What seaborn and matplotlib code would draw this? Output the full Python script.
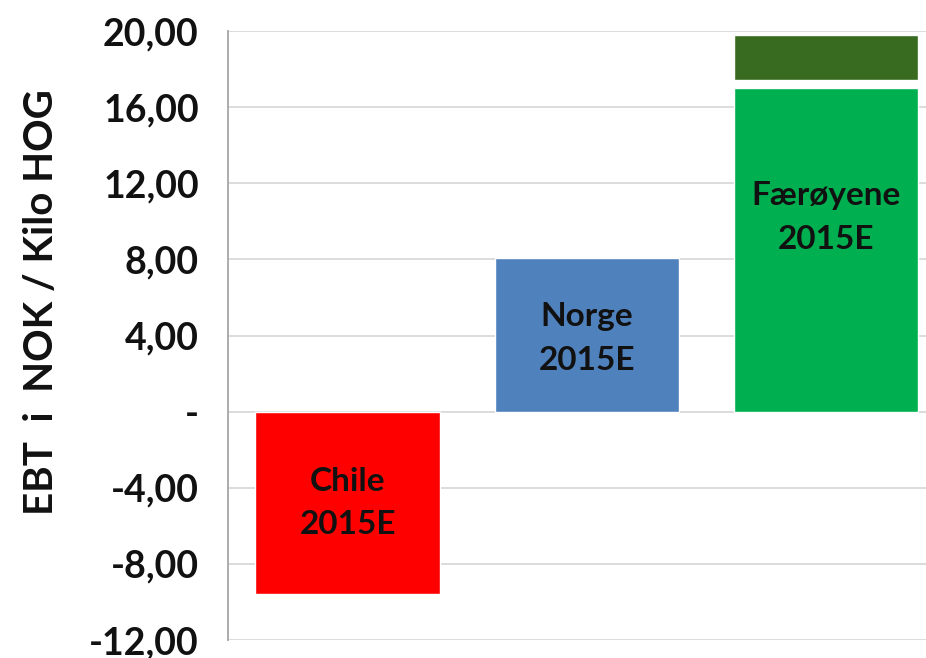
import matplotlib
matplotlib.use("Agg")
import matplotlib.pyplot as plt
import seaborn as sns
import pandas as pd

# EBT per kilo HOG, 2015 estimates
regions = ["Chile", "Norge", "Færøyene"]
ebt = [-9.6, 8.05, 17.0]
bar_labels = ["Chile\n2015E", "Norge\n2015E", "Færøyene\n2015E"]
label_y = [-4.8, 3.85, 10.2]
colors = ["#FF0000", "#4F81BD", "#00B050"]
# extra segment on the Færøyene column
extra_bottom = [17.4]
extra_top = [19.8]
extra_color = "#386A1F"

yticks = [-12, -8, -4, 0, 4, 8, 12, 16, 20]
ytick_labels = ["-12,00", "-8,00", "-4,00", "-", "4,00", "8,00", "12,00", "16,00", "20,00"]

sns.set_theme(style="white")
plt.rcParams["font.family"] = ["Lato", "DejaVu Sans"]

df = pd.DataFrame({"region": regions, "ebt": ebt})

fig = plt.figure(figsize=(9.26, 6.58), dpi=100)
ax = fig.add_axes([228 / 926, 1 - 640 / 658, 1 - 228 / 926, (640 - 31) / 658])

sns.barplot(data=df, x="region", y="ebt", hue="region", palette=colors,
            width=0.77, saturation=1, legend=False, ax=ax, zorder=3)
ax.bar([2], [extra_top[0] - extra_bottom[0]], bottom=extra_bottom, width=0.77,
       color=extra_color, zorder=3)

for i, (txt, yy) in enumerate(zip(bar_labels, label_y)):
    ax.text(i, yy, txt, ha="center", va="center", fontsize=24, fontweight="bold",
            color="#111111", linespacing=1.6, zorder=4)

ax.set_ylim(-12, 20)
ax.set_xlim(-0.5, 2.42)
ax.set_yticks(yticks)
ax.set_yticklabels(ytick_labels, fontsize=27, fontweight="bold", color="#111111")
ax.set_xticks([])
ax.set_xlabel("")
ax.set_ylabel("")
ax.yaxis.grid(True, color="#D9D9D9", linewidth=1.3, zorder=0)
ax.tick_params(axis="y", direction="out", length=12, width=1.2, color="#A6A6A6", pad=9)
for side in ["top", "right", "bottom"]:
    ax.spines[side].set_visible(False)
ax.spines["left"].set_color("#A6A6A6")
ax.spines["left"].set_linewidth(1.3)

fig.text(42 / 926, 1 - 302 / 658, "EBT  i  NOK / Kilo HOG", rotation=90,
         ha="center", va="center", fontsize=29, fontweight="bold", color="#111111")

fig.savefig("out.png", dpi=100)
